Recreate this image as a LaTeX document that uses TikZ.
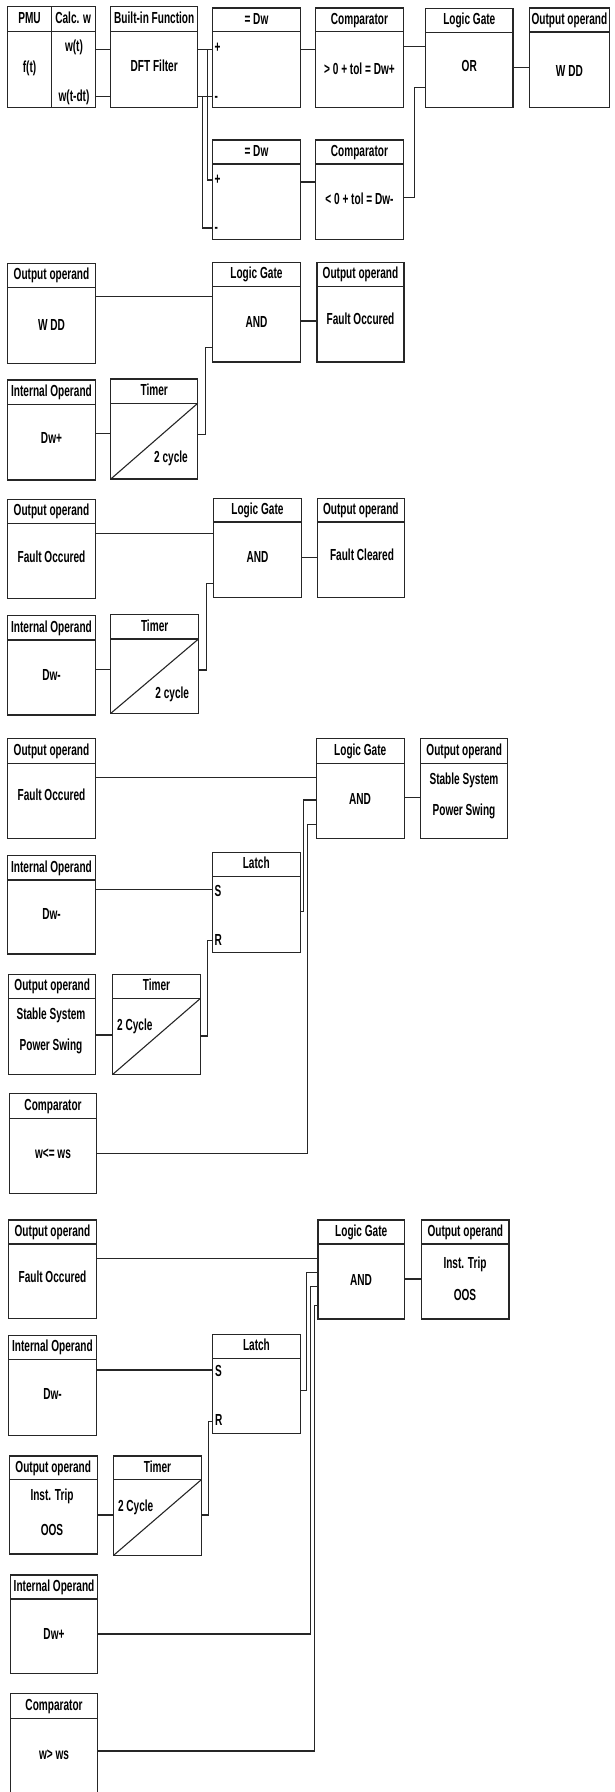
\documentclass[tikz,border=0pt]{standalone}
\usepackage{fontspec}
\setmainfont[FakeStretch=0.63]{Liberation Sans}
\usetikzlibrary{fit}
\newcommand\blockbox[7]{%
  \node[blk, fit={(#2,#3) (#4,#5)}] (#1) {};
  \draw[ln] (#2,#6) -- (#4,#6);
  \node[txt] (#1-h) at ({(#2+#4)/2},{(#3+#6)/2}) {#7};
}
\begin{document}
\begin{tikzpicture}[x=1pt,y=-1pt,
  ln/.style={line width=1.1pt, draw=black!85},
  blk/.style={ln, rectangle, inner sep=0pt, outer sep=0pt},
  txt/.style={inner sep=0pt, font=\fontsize{16}{18}\selectfont\bfseries, text=black, text height=11.2pt, text depth=2.7pt},
  wire/.style={ln}]
\useasboundingbox (0,0) rectangle (614,1792);

% ---------------- Row 1 ----------------
\node[blk, fit={(7.8,6.7) (95.2,107.3)}] (pmu) {};
\draw[ln] (7.8,31.7) -- (95.2,31.7);
\draw[ln] (51.3,6.7) -- (51.3,107.3);
\node[txt] (pmu-h) at (29.5,19.2) {PMU};
\node[txt] (calc-h) at (73.2,19.2) {Calc. w};
\node[txt] (pmu-f) at (29.5,68) {f(t)};
\node[txt] (calc-w1) at (74,47) {w(t)};
\node[txt] (calc-w2) at (74,97) {w(t-dt)};

\blockbox{dft}{110.8}{6.7}{197.7}{107.3}{31.7}{Built-in Function}
\node[txt] (dft-t) at (154.2,67) {DFT Filter};

\blockbox{dwa}{212.2}{8}{300.7}{107.3}{31.7}{= Dw}
\node[txt,anchor=west] (dwa-p) at (214.5,48) {+};
\node[txt,anchor=west] (dwa-m) at (214.5,97) {-};

\blockbox{cmpa}{315.6}{8}{403.3}{107.3}{31.7}{Comparator}
\node[txt] (cmpa-t) at (359.5,70) {> 0 + tol = Dw+};

\blockbox{lga}{425.6}{8.7}{513}{107.3}{32.7}{Logic Gate}
\node[txt] (lga-t) at (469.3,67) {OR};

\blockbox{oua}{529.4}{8}{609.4}{107.3}{32}{Output operand}
\node[txt] (oua-t) at (569.4,72) {W DD};

\blockbox{dwb}{212.2}{140}{300.7}{239.3}{164}{= Dw}
\node[txt,anchor=west] (dwb-p) at (214.5,180) {+};
\node[txt,anchor=west] (dwb-m) at (214.5,228) {-};

\blockbox{cmpb}{315.6}{140}{403.3}{239.3}{164}{Comparator}
\node[txt] (cmpb-t) at (359.5,200) {< 0 + tol = Dw-};

\draw[wire] (pmu.east |- 0,49.3) -- (dft.west |- 0,49.3);
\draw[wire] (pmu.east |- 0,96.7) -- (dft.west |- 0,96.7);
\draw[wire] (dft.east |- 0,49.3) -- (dwa.west |- 0,49.3);
\draw[wire] (dft.east |- 0,96.7) -- (dwa.west |- 0,96.7);
\coordinate (ja) at (207.5,49.3);
\coordinate (jb) at (202.4,96.7);
\draw[wire] (ja) |- (dwb.west |- 0,180);
\draw[wire] (jb) |- (dwb.west |- 0,228);
\draw[wire] (dwa.east |- 0,49.3) -- (cmpa.west |- 0,49.3);
\draw[wire] (dwb.east |- 0,182) -- (cmpb.west |- 0,182);
\draw[wire] (cmpa.east |- 0,46.7) -- (lga.west |- 0,46.7);
\draw[wire] (cmpb.east |- 0,197.3) -| (414.3,87.7) -- (lga.west |- 0,87.7);
\draw[wire] (lga.east |- 0,67.7) -- (oua.west |- 0,67.7);

% ---------------- Row 2 ----------------
\blockbox{oub}{7.8}{263.3}{95.2}{363.3}{287.7}{Output operand}
\node[txt] (oub-t) at (51.5,326.7) {W DD};
\blockbox{lgb}{212.2}{262.3}{300.7}{362}{286.7}{Logic Gate}
\node[txt] (lgb-t) at (256.5,323) {AND};
\blockbox{ouc}{317}{262.3}{404}{362}{286.7}{Output operand}
\node[txt] (ouc-t) at (360.5,320.7) {Fault Occured};
\blockbox{ioa}{7.8}{380}{95.2}{480}{404.3}{Internal Operand}
\node[txt] (ioa-t) at (51.5,439.3) {Dw+};
\blockbox{tma}{110.8}{379}{197.7}{479}{403.3}{Timer}
\draw[ln] (tma.south west) -- (197.7,403.3);
\node[txt] (tma-t) at (171,458.3) {2 cycle};

\draw[wire] (oub.east |- 0,296.7) -- (lgb.west |- 0,296.7);
\draw[wire] (lgb.east |- 0,321) -- (ouc.west |- 0,321);
\draw[wire] (ioa.east |- 0,433.3) -- (tma.west |- 0,433.3);
\draw[wire] (tma.east |- 0,434.3) -| (205.6,347.7) -- (lgb.west |- 0,347.7);

% ---------------- Row 3 ----------------
\blockbox{oud}{7.8}{499.3}{95.2}{598.3}{523.3}{Output operand}
\node[txt] (oud-t) at (51.5,558.3) {Fault Occured};
\blockbox{lgc}{213.4}{498.3}{301.5}{597.7}{522}{Logic Gate}
\node[txt] (lgc-t) at (257.5,558.3) {AND};
\blockbox{oue}{317.2}{498.3}{404.5}{597.7}{522}{Output operand}
\node[txt] (oue-t) at (362,556.7) {Fault Cleared};
\blockbox{iob}{7.8}{615.7}{95.2}{715}{640}{Internal Operand}
\node[txt] (iob-t) at (51.5,676.7) {Dw-};
\blockbox{tmb}{110.8}{614.7}{198.5}{713.3}{639}{Timer}
\draw[ln] (tmb.south west) -- (198.5,639);
\node[txt] (tmb-t) at (172.3,694.3) {2 cycle};

\draw[wire] (oud.east |- 0,533.3) -- (lgc.west |- 0,533.3);
\draw[wire] (lgc.east |- 0,557.3) -- (oue.west |- 0,557.3);
\draw[wire] (iob.east |- 0,669.3) -- (tmb.west |- 0,669.3);
\draw[wire] (tmb.east |- 0,670) -| (206.3,583.3) -- (lgc.west |- 0,583.3);

% ---------------- Row 4 ----------------
\blockbox{ouf}{7.8}{738.7}{95.2}{838.7}{763.3}{Output operand}
\node[txt] (ouf-t) at (51.5,796.7) {Fault Occured};
\blockbox{lgd}{316.4}{738.7}{404.1}{838.7}{763.3}{Logic Gate}
\node[txt] (lgd-t) at (360,800) {AND};
\blockbox{oug}{420.5}{738.7}{507.9}{838.7}{763.3}{Output operand}
\node[txt] (oug-t1) at (464,780.7) {Stable System};
\node[txt] (oug-t2) at (464,811.7) {Power Swing};
\blockbox{ioc}{7.8}{855.7}{95.2}{954}{880}{Internal Operand}
\node[txt] (ioc-t) at (51.5,915) {Dw-};
\blockbox{lta}{212.2}{852.7}{300.3}{952.3}{876.7}{Latch}
\node[txt,anchor=west] (lta-s) at (214.5,892.7) {S};
\node[txt,anchor=west] (lta-r) at (214.5,941.7) {R};
\blockbox{ouh}{8.6}{974.7}{95.9}{1074.3}{998.7}{Output operand}
\node[txt] (ouh-t1) at (51,1015) {Stable System};
\node[txt] (ouh-t2) at (51,1046.7) {Power Swing};
\blockbox{tmc}{112.8}{974.3}{200.1}{1074.3}{998.7}{Timer}
\draw[ln] (tmc.south west) -- (200.1,998.7);
\node[txt,anchor=west] (tmc-t) at (117,1026.7) {2 Cycle};
\blockbox{cmpc}{9.8}{1093.3}{96.3}{1193.3}{1118.3}{Comparator}
\node[txt] (cmpc-t) at (53,1154) {w<= ws};

\draw[wire] (ouf.east |- 0,777.3) -- (lgd.west |- 0,777.3);
\draw[wire] (lgd.east |- 0,797.7) -- (oug.west |- 0,797.7);
\draw[wire] (ioc.east |- 0,889.3) -- (lta.west |- 0,889.3);
\draw[wire] (lta.east |- 0,911.7) -| (303.5,800) -- (lgd.west |- 0,800);
\draw[wire] (ouh.east |- 0,1035) -- (tmc.west |- 0,1035);
\draw[wire] (tmc.east |- 0,1036) -| (207.5,940.7) -- (lta.west |- 0,940.7);
\draw[wire] (cmpc.east |- 0,1153.3) -| (307.8,824.3) -- (lgd.west |- 0,824.3);

% ---------------- Row 5 ----------------
\blockbox{oui}{8.6}{1220}{96.3}{1318.3}{1244}{Output operand}
\node[txt] (oui-t) at (52.5,1278.3) {Fault Occured};
\blockbox{lge}{318}{1220}{404.5}{1319}{1244}{Logic Gate}
\node[txt] (lge-t) at (361,1281) {AND};
\blockbox{ouj}{421.7}{1220}{509}{1319}{1244}{Output operand}
\node[txt] (ouj-t1) at (465,1264.3) {Inst. Trip};
\node[txt] (ouj-t2) at (465,1296.7) {OOS};
\blockbox{iod}{8.6}{1335.7}{96.3}{1435.3}{1359.3}{Internal Operand}
\node[txt] (iod-t) at (52.5,1395.7) {Dw-};
\blockbox{ltb}{212.6}{1334.3}{300.3}{1433.7}{1358.3}{Latch}
\node[txt,anchor=west] (ltb-s) at (214.9,1372.3) {S};
\node[txt,anchor=west] (ltb-r) at (214.9,1421.7) {R};
\blockbox{ouk}{9.4}{1456}{97.1}{1554}{1479.7}{Output operand}
\node[txt] (ouk-t1) at (52,1496.7) {Inst. Trip};
\node[txt] (ouk-t2) at (52,1531.7) {OOS};
\blockbox{tmd}{113.6}{1456}{201.3}{1555.3}{1479.7}{Timer}
\draw[ln] (tmd.south west) -- (201.3,1479.7);
\node[txt,anchor=west] (tmd-t) at (117.8,1507.3) {2 Cycle};
\blockbox{ioe}{10.2}{1575}{97.9}{1673.3}{1599}{Internal Operand}
\node[txt] (ioe-t) at (54,1635) {Dw+};
\blockbox{cmpd}{10.2}{1693.3}{97.9}{1800}{1718.3}{Comparator}
\node[txt] (cmpd-t) at (54,1755) {w> ws};

\draw[wire] (oui.east |- 0,1258.7) -- (lge.west |- 0,1258.7);
\draw[wire] (lge.east |- 0,1279) -- (ouj.west |- 0,1279);
\draw[wire] (iod.east |- 0,1370) -- (ltb.west |- 0,1370);
\draw[wire] (ltb.east |- 0,1390.7) -| (306.6,1272.7) -- (lge.west |- 0,1272.7);
\draw[wire] (ouk.east |- 0,1515) -- (tmd.west |- 0,1515);
\draw[wire] (tmd.east |- 0,1515) -| (208.3,1421.7) -- (ltb.west |- 0,1421.7);
\draw[wire] (ioe.east |- 0,1634) -| (310.5,1286.7) -- (lge.west |- 0,1286.7);
\draw[wire] (cmpd.east |- 0,1751) -| (314.4,1305.3) -- (lge.west |- 0,1305.3);
\end{tikzpicture}
\end{document}
